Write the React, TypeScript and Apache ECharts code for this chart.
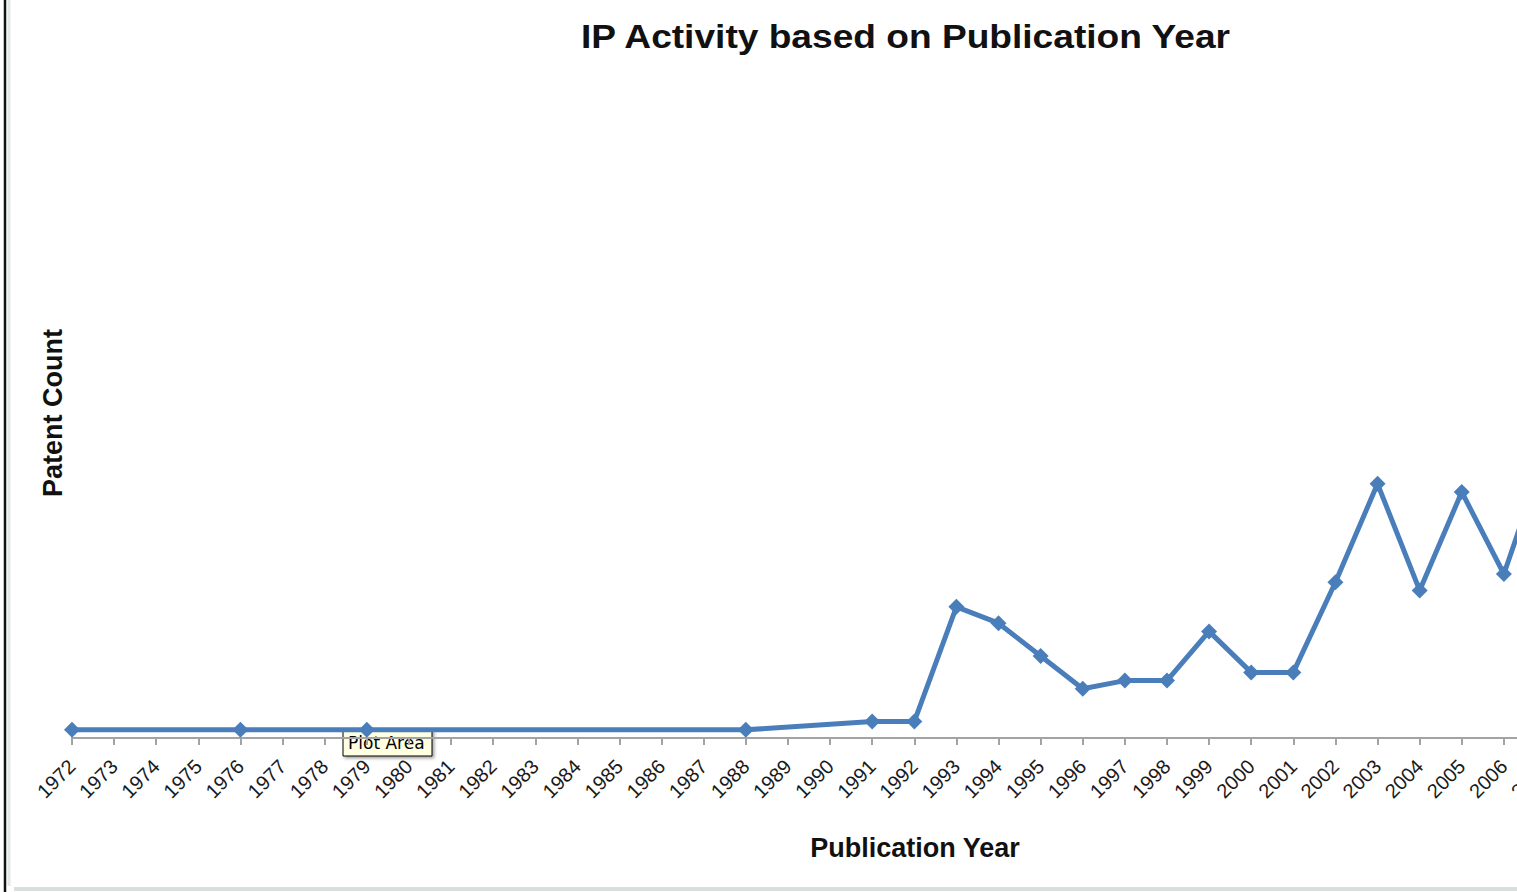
import React, { useEffect, useRef } from "react";
import * as echarts from "echarts";

const years: string[] = [
  "1972", "1973", "1974", "1975", "1976", "1977", "1978", "1979", "1980", "1981",
  "1982", "1983", "1984", "1985", "1986", "1987", "1988", "1989", "1990", "1991",
  "1992", "1993", "1994", "1995", "1996", "1997", "1998", "1999", "2000", "2001",
  "2002", "2003", "2004", "2005", "2006", "2007",
];

const patentCounts: (number | null)[] = [
  1, null, null, null, 1, null, null, 1, null, null,
  null, null, null, null, null, null, 1, null, null, 2,
  2, 16, 14, 10, 6, 7, 7, 13, 8, 8,
  19, 31, 18, 30, 20, 35,
];

const titleText = "IP Activity based on Publication Year";
const xAxisTitle = "Publication Year";
const yAxisTitle = "Patent Count";
const yMax = 80;

export default function App() {
  const ref = useRef<HTMLDivElement>(null);

  useEffect(() => {
    if (!ref.current) return;
    const chart = echarts.init(ref.current, null, { renderer: "svg" });
    const font = "'Liberation Sans', Arial, sans-serif";
    chart.setOption({
      animation: false,
      backgroundColor: "#ffffff",
      grid: {
        left: 72,
        right: 74,
        top: 82,
        bottom: 154,
        outerBoundsMode: "none",
        containLabel: false,
      },
      xAxis: {
        type: "category",
        data: years,
        boundaryGap: false,
        axisLine: { show: true, lineStyle: { color: "#a3a3a3", width: 2 } },
        axisTick: {
          show: true,
          alignWithLabel: true,
          length: 7,
          lineStyle: { color: "#a3a3a3", width: 2 },
        },
        axisLabel: {
          interval: 0,
          rotate: 45,
          margin: 25,
          fontSize: 20,
          color: "#1a1a1a",
          fontFamily: font,
        },
        splitLine: { show: false },
      },
      yAxis: {
        type: "value",
        min: 0,
        max: yMax,
        axisLine: { show: false },
        axisTick: { show: false },
        axisLabel: { show: false },
        splitLine: { show: false },
      },
      series: [
        {
          type: "line",
          data: patentCounts,
          connectNulls: true,
          symbol: "diamond",
          symbolSize: 16,
          lineStyle: { color: "#4a7ebb", width: 5 },
          itemStyle: { color: "#4a7ebb" },
        },
      ],
      graphic: [
        {
          type: "text",
          x: 581,
          y: 20,
          scaleX: 1.125,
          style: {
            text: titleText,
            fontSize: 33,
            fontWeight: "bold",
            fontFamily: font,
            fill: "#111111",
          },
        },
        {
          type: "text",
          x: 915,
          y: 848,
          style: {
            text: xAxisTitle,
            fontSize: 27,
            fontWeight: "bold",
            fontFamily: font,
            fill: "#111111",
            align: "center",
            verticalAlign: "middle",
          },
        },
        {
          type: "text",
          x: 53,
          y: 413,
          rotation: Math.PI / 2,
          style: {
            text: yAxisTitle,
            fontSize: 27,
            fontWeight: "bold",
            fontFamily: font,
            fill: "#111111",
            align: "center",
            verticalAlign: "middle",
          },
        },
        {
          type: "group",
          x: 343,
          y: 729,
          z: 100,
          children: [
            {
              type: "rect",
              shape: { x: 0, y: 0, width: 89, height: 27 },
              style: {
                fill: "#ffffe1",
                stroke: "#000000",
                lineWidth: 1,
                shadowBlur: 3,
                shadowOffsetX: 2,
                shadowOffsetY: 2,
                shadowColor: "rgba(0,0,0,0.35)",
              },
            },
            {
              type: "text",
              x: 5,
              y: 14,
              style: {
                text: "Plot Area",
                fontSize: 17,
                fontFamily: "'DejaVu Sans', sans-serif",
                fill: "#000000",
                verticalAlign: "middle",
              },
            },
          ],
        },
        {
          type: "line",
          z: 100,
          shape: { x1: 5, y1: 0, x2: 5, y2: 892 },
          style: { stroke: "#111111", lineWidth: 2.5 },
        },
        {
          type: "line",
          z: 100,
          shape: { x1: 9, y1: 0, x2: 9, y2: 886 },
          style: { stroke: "#e2e8e8", lineWidth: 3 },
        },
        {
          type: "line",
          z: 100,
          shape: { x1: 14, y1: 889, x2: 1620, y2: 889 },
          style: { stroke: "#d8dfdf", lineWidth: 4 },
        },
      ],
    });
    return () => chart.dispose();
  }, []);

  return (
    <div
      style={{
        position: "fixed",
        left: 0,
        top: 0,
        width: 1517,
        height: 892,
        overflow: "hidden",
        background: "#ffffff",
      }}
    >
      <div ref={ref} style={{ width: 1620, height: 892 }} />
    </div>
  );
}
